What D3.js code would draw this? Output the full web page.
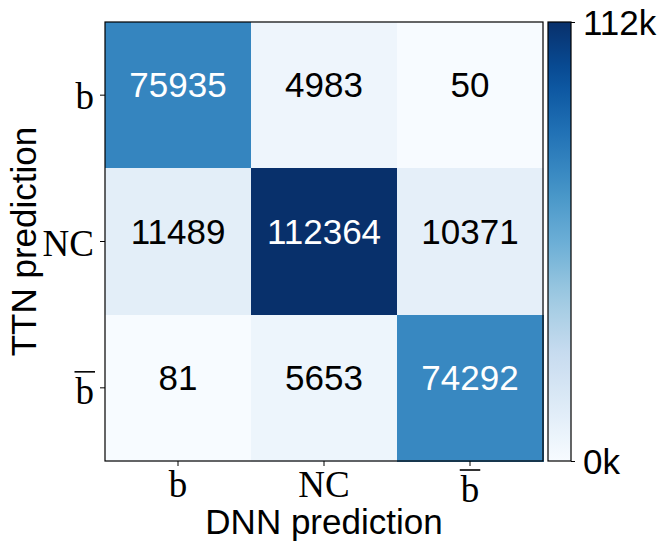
<!DOCTYPE html>
<html>
<head>
<meta charset="utf-8">
<script src="https://cdn.jsdelivr.net/npm/d3@7"></script>
<style>
  html, body { margin: 0; padding: 0; background: #fff; }
  svg { display: block; }
</style>
</head>
<body>
<div id="chart"></div>
<script>
// ---- data ----
const rowLabels = ["b", "NC", "b\u0304"];      // TTN prediction (y)
const colLabels = ["b", "NC", "b\u0304"];      // DNN prediction (x)
const rowB   = [75935, 4983, 50];
const rowNC  = [11489, 112364, 10371];
const rowBbar = [81, 5653, 74292];
const matrix = [rowB, rowNC, rowBbar];
const blues9 = ["#f7fbff","#deebf7","#c6dbef","#9ecae1","#6baed6","#4292c6","#2171b5","#08519c","#08306b"];
const xTitle = "DNN prediction";
const yTitle = "TTN prediction";

// ---- layout ----
const W = 668, H = 553;
const plot = { x: 105, y: 22, w: 438, h: 439 };
const cb = { x: 548, y: 22, w: 23, h: 439 };
const sans = "'Liberation Sans', Arial, Helvetica, sans-serif";
const serif = "'Liberation Serif', 'Times New Roman', serif";

const svg = d3.select("#chart").append("svg").attr("width", W).attr("height", H);

const idx = d3.range(colLabels.length);
const x = d3.scaleBand().domain(idx).range([plot.x, plot.x + plot.w]);
const y = d3.scaleBand().domain(idx).range([plot.y, plot.y + plot.h]);
const vmax = d3.max(matrix.flat());
const interp = d3.piecewise(d3.interpolateRgb, blues9);
const color = d3.scaleSequential(interp).domain([0, vmax]);

const cells = [];
matrix.forEach((row, r) => row.forEach((v, c) => cells.push({ r, c, v })));

svg.append("g").selectAll("rect").data(cells).join("rect")
  .attr("x", d => x(d.c)).attr("y", d => y(d.r))
  .attr("width", x.bandwidth() + 0.5).attr("height", y.bandwidth() + 0.5)
  .attr("fill", d => color(d.v))
  .attr("shape-rendering", "crispEdges");

svg.append("g").selectAll("text").data(cells).join("text")
  .attr("x", d => x(d.c) + x.bandwidth() / 2)
  .attr("y", d => y(d.r) + y.bandwidth() / 2 + 2)
  .attr("text-anchor", "middle")
  .attr("font-family", sans).attr("font-size", 35)
  .attr("fill", d => d.v > vmax / 2 ? "#fff" : "#000")
  .text(d => d.v);

// frame
svg.append("rect").attr("x", plot.x).attr("y", plot.y).attr("width", plot.w).attr("height", plot.h)
  .attr("fill", "none").attr("stroke", "#000").attr("stroke-width", 1.2);

// label helper: draws "b" with overline for b̄
function drawLabel(g, label, anchor) {
  const hasBar = label.includes("\u0304");
  const base = label.replace("\u0304", "");
  const t = g.append("text").attr("font-family", serif).attr("font-size", 37)
    .attr("text-anchor", anchor).attr("fill", "#000").text(base);
  if (hasBar) {
    const bb = t.node().getBBox();
    g.append("line")
      .attr("x1", bb.x - 1).attr("x2", bb.x + bb.width + 1)
      .attr("y1", -32).attr("y2", -32)
      .attr("stroke", "#000").attr("stroke-width", 1.6);
  }
  return hasBar;
}

// x axis ticks
const xt = svg.append("g");
idx.forEach(i => {
  const cx = x(i) + x.bandwidth() / 2;
  xt.append("line").attr("x1", cx).attr("x2", cx).attr("y1", plot.y + plot.h).attr("y2", plot.y + plot.h + 5)
    .attr("stroke", "#000").attr("stroke-width", 1);
  const bar = colLabels[i].includes("\u0304");
  const g = xt.append("g").attr("transform", `translate(${cx},${plot.y + plot.h + (bar ? 41 : 36)})`);
  drawLabel(g, colLabels[i], "middle");
});

// y axis ticks
const yt = svg.append("g");
idx.forEach(i => {
  const cy = y(i) + y.bandwidth() / 2;
  yt.append("line").attr("x1", plot.x - 5).attr("x2", plot.x).attr("y1", cy).attr("y2", cy)
    .attr("stroke", "#000").attr("stroke-width", 1);
  const bar = rowLabels[i].includes("\u0304");
  const g = yt.append("g").attr("transform", `translate(${plot.x - 11},${cy + (bar ? 16 : 14)})`);
  drawLabel(g, rowLabels[i], "end");
});

// axis titles
svg.append("text").attr("x", plot.x + plot.w / 2).attr("y", 534)
  .attr("text-anchor", "middle").attr("font-family", sans).attr("font-size", 35).text(xTitle);
svg.append("text").attr("transform", `translate(36,${plot.y + plot.h / 2}) rotate(-90)`)
  .attr("text-anchor", "middle").attr("font-family", sans).attr("font-size", 35).text(yTitle);

// colorbar
const defs = svg.append("defs");
const grad = defs.append("linearGradient").attr("id", "cbgrad")
  .attr("x1", 0).attr("y1", 1).attr("x2", 0).attr("y2", 0);
d3.range(0, 1.0001, 0.05).forEach(t => {
  grad.append("stop").attr("offset", t).attr("stop-color", interp(t));
});
svg.append("rect").attr("x", cb.x).attr("y", cb.y).attr("width", cb.w).attr("height", cb.h)
  .attr("fill", "url(#cbgrad)").attr("stroke", "#000").attr("stroke-width", 1.2);

const cbScale = d3.scaleLinear().domain([0, vmax]).range([cb.y + cb.h, cb.y]);
const cbTicks = [0, vmax];
const cbFmt = v => Math.round(v / 1000) + "k";
const cbAxis = d3.axisRight(cbScale).tickValues(cbTicks).tickFormat(cbFmt).tickSize(4).tickPadding(8);
const cbg = svg.append("g").attr("transform", `translate(${cb.x + cb.w},0)`).call(cbAxis);
cbg.select(".domain").remove();
cbg.selectAll("text").attr("font-family", sans).attr("font-size", 35).attr("fill", "#000").attr("dy", "0.36em");
cbg.selectAll("line").attr("stroke", "#000");
</script>
</body>
</html>
